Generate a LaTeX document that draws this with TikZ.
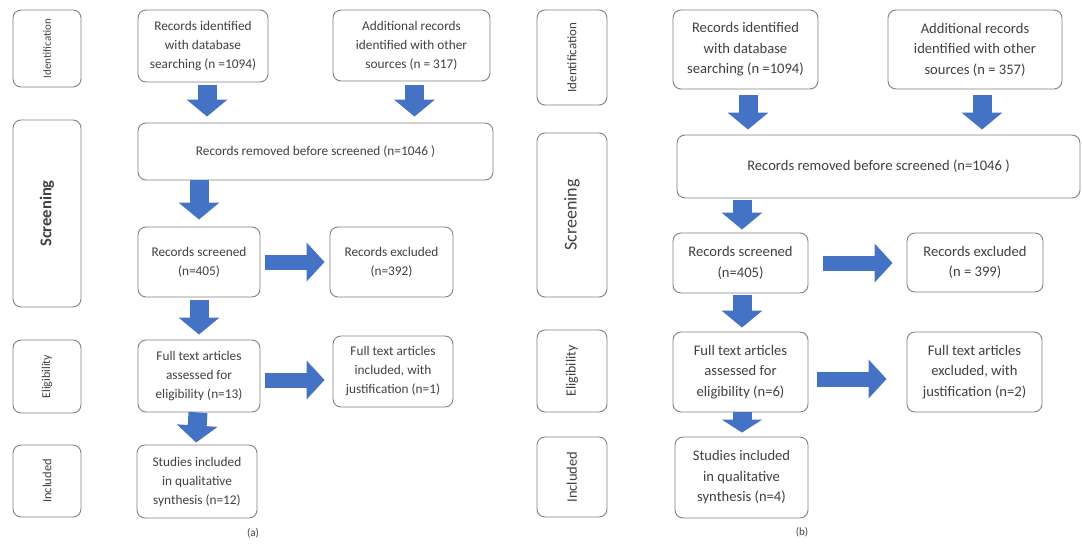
\documentclass[tikz,border=0pt]{standalone}
\usepackage{fontspec}
\setmainfont{Carlito}
\usetikzlibrary{arrows.meta}
\definecolor{arrblue}{HTML}{4472C4}
\definecolor{boxgray}{HTML}{808080}
\definecolor{txtgray}{HTML}{404040}
\tikzset{
  box/.style={draw=boxgray, line width=0.9pt, rounded corners=8pt, align=center, inner sep=2pt, text=txtgray},
  fa/.style={font=\fontsize{13.3}{19}\selectfont},
  fb/.style={font=\fontsize{14.6}{20.5}\selectfont},
  side/.style={box, rotate=90},
  barrow/.style={draw=arrblue, line width=19pt, -{Triangle[width=40pt,length=17pt]}},
  rarrow/.style={draw=arrblue, line width=15pt, -{Triangle[width=38pt,length=18pt]}},
}
\begin{document}
\begin{tikzpicture}[x=1pt,y=-1pt]
\useasboundingbox (0,0) rectangle (1082,547);
% ---------------- panel (a) ----------------
\node[side, minimum width=77pt, minimum height=68pt, font=\fontsize{11}{13}\selectfont] (idLA) at (47,48.5) {Identification};
\node[side, minimum width=187pt, minimum height=68pt, font=\fontsize{16.5}{18}\selectfont\bfseries] (scLA) at (47,213.5) {Screening};
\node[side, minimum width=73pt, minimum height=68pt, font=\fontsize{12}{14}\selectfont] (elLA) at (47,376.5) {Eligibility};
\node[side, minimum width=72pt, minimum height=68pt, font=\fontsize{12.5}{14}\selectfont] (inLA) at (47,481) {Included};

\node[box, fa, minimum width=130pt, minimum height=72pt] (idA) at (203,46) {Records identified\\with database\\searching (n =1094)};
\node[box, fa, minimum width=157pt, minimum height=71pt] (addA) at (411.5,45.5) {Additional records\\identified with other\\sources (n = 317)};
\node[box, fa, minimum width=355pt, minimum height=57pt] (remA) at (315.5,151.5) {Records removed before screened (n=1046 )};
\node[box, fa, minimum width=122pt, minimum height=70pt] (scrA) at (199,262) {Records screened\\(n=405)};
\node[box, fa, minimum width=123pt, minimum height=70pt] (excA) at (391.5,262) {Records excluded\\(n=392)};
\node[box, fa, minimum width=122pt, minimum height=72pt] (ftA) at (199,376) {Full text articles\\assessed for\\eligibility (n=13)};
\node[box, fa, minimum width=120pt, minimum height=71pt] (ftiA) at (393,371.5) {Full text articles\\included, with\\justification (n=1)};
\node[box, fa, minimum width=120pt, minimum height=73pt] (stA) at (197,481.5) {Studies included\\in qualitative\\synthesis (n=12)};
\node[font=\fontsize{11}{13}\selectfont, text=txtgray] (capA) at (253,533) {(a)};

\draw[barrow, shorten <=3pt, shorten >=6pt] ([xshift=4pt]idA.south) -- ([xshift=4pt]idA.south |- remA.north);
\draw[barrow, shorten <=4pt, shorten >=6pt] ([xshift=3pt]addA.south) -- ([xshift=3pt]addA.south |- remA.north);
\draw[barrow, shorten <=0pt, shorten >=7pt] (scrA.north |- remA.south) -- (scrA.north);
\draw[barrow, shorten <=3pt, shorten >=5pt] (scrA.south) -- (ftA.north);
\draw[barrow, shorten <=0pt, shorten >=2pt] ([xshift=-1pt]ftA.south) -- ([xshift=-1pt]stA.north);
\draw[rarrow, shorten <=5pt, shorten >=5pt] (scrA.east) -- (scrA.east -| excA.west);
\draw[rarrow, shorten <=5pt, shorten >=8pt] ([yshift=-4pt]ftA.east) -- ([yshift=-4pt]ftA.east -| ftiA.west);

% ---------------- panel (b) ----------------
\node[side, minimum width=95pt, minimum height=70pt, font=\fontsize{13}{15}\selectfont] (idLB) at (572,57.5) {Identification};
\node[side, minimum width=164pt, minimum height=70pt, font=\fontsize{18}{20}\selectfont] (scLB) at (572,215) {Screening};
\node[side, minimum width=82pt, minimum height=70pt, font=\fontsize{14}{16}\selectfont] (elLB) at (572,371) {Eligibility};
\node[side, minimum width=80pt, minimum height=70pt, font=\fontsize{14.5}{16}\selectfont] (inLB) at (572,477) {Included};

\node[box, fb, minimum width=145pt, minimum height=79pt] (idB) at (745.5,49.5) {Records identified\\with database\\searching (n =1094)};
\node[box, fb, minimum width=174pt, minimum height=79pt] (addB) at (975,49.5) {Additional records\\identified with other\\sources (n = 357)};
\node[box, fb, minimum width=403pt, minimum height=63pt] (remB) at (878.5,166.5) {Records removed before screened (n=1046 )};
\node[box, fb, minimum width=135pt, minimum height=60pt] (scrB) at (740.5,263) {Records screened\\(n=405)};
\node[box, fb, minimum width=136pt, minimum height=59pt] (excB) at (975,262.5) {Records excluded\\(n = 399)};
\node[box, fb, minimum width=135pt, minimum height=80pt] (ftB) at (740.5,372) {Full text articles\\assessed for\\eligibility (n=6)};
\node[box, fb, minimum width=135pt, minimum height=80pt] (ftxB) at (974.5,372) {Full text articles\\excluded, with\\justification (n=2)};
\node[box, fb, minimum width=133pt, minimum height=81pt] (stB) at (741.5,477.5) {Studies included\\in qualitative\\synthesis (n=4)};
\node[font=\fontsize{11}{13}\selectfont, text=txtgray] (capB) at (802,532) {(b)};

\draw[barrow, shorten <=6pt, shorten >=5pt] ([xshift=2.5pt]idB.south) -- ([xshift=2.5pt]idB.south |- remB.north);
\draw[barrow, shorten <=6pt, shorten >=5pt] ([xshift=7pt]addB.south) -- ([xshift=7pt]addB.south |- remB.north);
\draw[barrow, shorten <=2pt, shorten >=3pt] ([xshift=1.5pt]scrB.north |- remB.south) -- ([xshift=1.5pt]scrB.north);
\draw[barrow, shorten <=2pt, shorten >=4pt] ([xshift=1.5pt]scrB.south) -- ([xshift=1.5pt]ftB.north);
\draw[barrow, shorten <=0pt, shorten >=4pt, -{Triangle[width=40pt,length=13pt]}] ([xshift=1.5pt]ftB.south) -- ([xshift=1.5pt]ftB.south |- stB.north);
\draw[rarrow, shorten <=15pt, shorten >=14pt] (scrB.east) -- (scrB.east -| excB.west);
\draw[rarrow, shorten <=9pt, shorten >=20pt] ([yshift=-7pt]ftB.east) -- ([yshift=-7pt]ftB.east -| ftxB.west);
\end{tikzpicture}
\end{document}
